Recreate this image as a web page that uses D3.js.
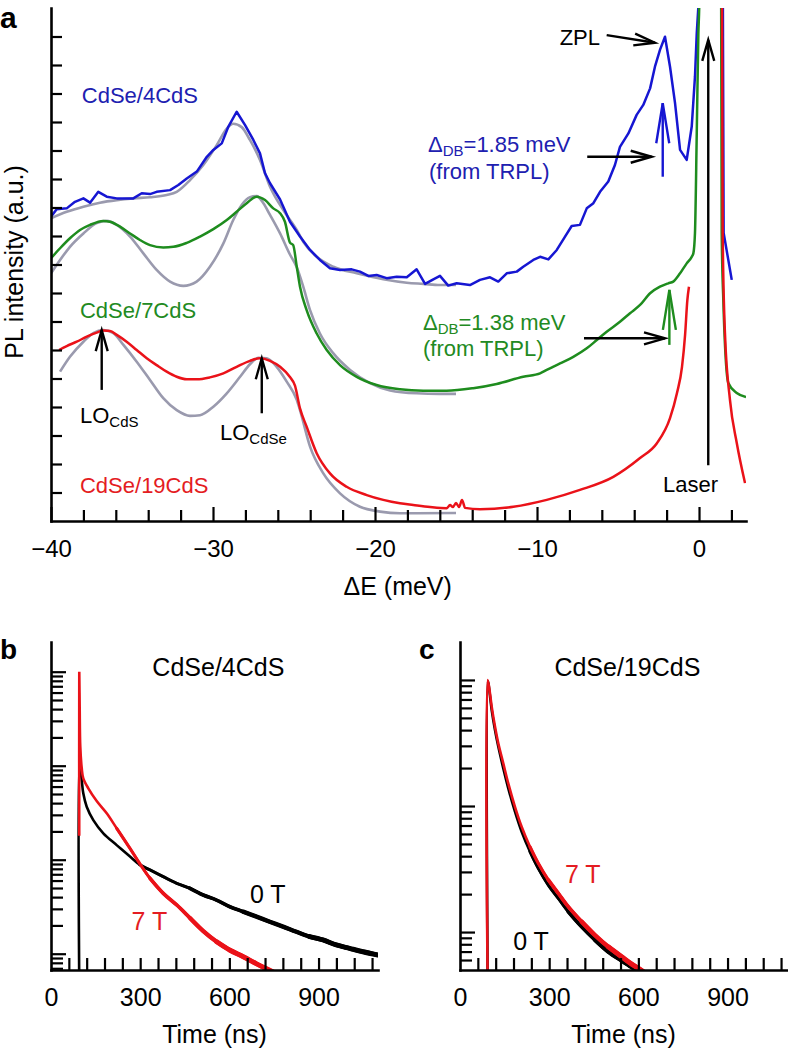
<!DOCTYPE html>
<html><head><meta charset="utf-8">
<script src="https://cdn.jsdelivr.net/npm/d3@7"></script>
<style>
body{margin:0;background:#fff;}
svg{display:block;}
</style></head><body>
<svg id="fig" width="788" height="1050"></svg>
<script>
// ---------------- DATA (panel a: PL spectra, ΔE in meV, intensity a.u.) ----------------
const blueE = [-40.0,-39.65,-39.03,-38.52,-38.0,-37.59,-37.08,-36.56,-35.94,-34.92,-34.40,-33.89,-33.48,-32.65,-32.14,-31.62,-31.0,-30.38,-29.98,-29.46,-29.05,-28.54,-28.02,-27.51,-27.10,-26.79,-26.48,-25.86,-25.25,-24.63,-24.01,-23.40,-22.78,-22.16,-21.44,-20.93,-20.41,-19.90,-19.28,-18.66,-18.04,-17.43,-16.91,-16.40,-15.99,-15.48,-14.96,-14.14,-13.52,-12.90,-12.39,-11.87,-11.25,-10.85,-10.23,-9.81,-9.30,-8.78,-8.27,-7.86,-7.35,-6.93,-6.52,-6.11,-5.60,-5.19,-4.88,-4.36,-3.85,-3.44,-3.02,-2.72,-2.41,-2.10,-1.79,-1.48,-1.17,-0.76,-0.45,-0.25,-0.14,-0.04,0.0,1.45,1.52,2.02];
const blueV = [10.68,10.94,10.97,11.20,11.32,11.17,11.55,11.38,11.32,11.32,11.50,11.47,11.55,11.61,11.79,12.02,12.26,12.78,13.02,13.25,13.84,14.36,13.89,13.37,12.90,12.20,11.85,11.28,10.50,9.98,9.51,9.16,8.87,8.81,8.83,8.75,8.60,8.63,8.52,8.57,8.55,8.83,8.32,8.48,8.60,8.26,8.34,8.28,8.46,8.55,8.40,8.69,8.75,8.92,9.16,9.27,9.18,9.51,9.98,10.35,10.39,10.97,11.15,11.55,11.91,12.49,13.13,13.60,14.25,14.60,15.18,15.94,16.53,16.99,15.94,14.66,13.02,12.67,13.84,15.59,17.11,18.05,22,22,10.11,8.46];

const greenE = [-40.0,-39.44,-38.83,-38.21,-37.59,-36.77,-36.36,-35.74,-35.12,-34.51,-33.89,-33.07,-32.45,-31.62,-30.80,-29.98,-29.15,-28.54,-27.92,-27.30,-26.79,-26.28,-25.86,-25.56,-25.25,-25.05,-24.83,-24.63,-24.22,-23.60,-22.98,-22.16,-21.13,-19.90,-18.46,-17.02,-15.58,-13.94,-12.49,-10.85,-9.81,-9.40,-8.58,-7.76,-6.93,-6.31,-5.70,-4.88,-4.26,-3.64,-3.02,-2.41,-1.90,-1.59,-1.17,-0.76,-0.45,-0.35,-0.25,-0.14,-0.04,0.02,0.05,1.35,1.40,1.50,1.81,2.33,2.90];
const greenV = [9.22,9.57,9.92,10.21,10.39,10.53,10.50,10.33,10.09,9.86,9.68,9.60,9.62,9.76,9.98,10.24,10.56,10.85,11.15,11.38,11.26,10.97,10.80,10.50,9.77,9.68,8.92,8.22,7.40,6.58,6.00,5.47,5.06,4.77,4.62,4.57,4.57,4.66,4.81,5.06,5.18,5.30,5.53,5.76,6.06,6.35,6.64,6.99,7.29,7.58,7.99,8.22,8.34,8.40,8.69,9.04,9.27,9.39,10.1,13.6,17.1,18.3,22,22,10.1,7.75,4.84,4.49,4.35];

// null marks the gap in the red spectrum around the laser line
const redE = [-39.5,-39.03,-38.41,-37.79,-37.18,-36.77,-36.36,-35.94,-35.33,-34.71,-34.09,-33.48,-32.86,-32.24,-31.62,-31.01,-30.19,-29.36,-28.54,-27.72,-27.10,-26.48,-25.86,-25.25,-24.94,-24.63,-24.22,-23.60,-22.78,-21.75,-20.51,-19.49,-18.46,-17.64,-16.60,-15.57,-15.37,-15.19,-15.0,-14.81,-14.63,-14.44,-13.52,-11.46,-9.40,-7.35,-5.29,-3.64,-2.60,-1.79,-1.36,-1.05,-0.86,-0.72,-0.62,null,1.40,1.46,1.60,1.91,2.33,2.84];
const redV = [6.0,6.14,6.29,6.47,6.61,6.68,6.67,6.53,6.29,6.0,5.71,5.47,5.24,5.06,4.97,4.97,5.04,5.18,5.41,5.62,5.71,5.62,5.41,5.05,4.75,3.95,3.31,2.38,1.67,1.20,0.91,0.74,0.62,0.56,0.49,0.45,0.56,0.49,0.63,0.49,0.74,0.46,0.41,0.50,0.74,1.09,1.55,2.21,2.73,3.61,4.49,5.41,6.53,7.75,8.22,null,22,10.1,6.60,4.25,2.74,1.33];

const fitBlueE = [-40.0,-39.03,-38.0,-36.98,-35.94,-34.92,-33.89,-32.86,-32.24,-31.42,-30.60,-29.77,-29.15,-28.75,-28.23,-27.72,-27.10,-26.48,-25.66,-24.83,-24.43,-23.60,-22.57,-21.13,-19.49,-18.04,-17.02,-15.99,-15.0];
const fitBlueV = [10.62,10.85,11.03,11.17,11.26,11.32,11.36,11.44,11.55,11.96,12.49,13.19,13.77,13.94,13.82,13.37,12.67,11.73,10.91,10.21,9.80,9.27,8.92,8.69,8.48,8.36,8.32,8.28,8.28];

const fitGreenE = [-40.0,-39.44,-38.83,-38.0,-37.18,-36.56,-35.94,-35.12,-34.30,-33.48,-32.65,-31.83,-31.01,-30.19,-29.36,-28.75,-28.23,-27.72,-27.30,-26.89,-26.48,-25.86,-25.25,-24.83,-24.43,-24.01,-23.40,-22.57,-21.54,-20.31,-19.07,-17.43,-16.01,-15.0];
const fitGreenV = [8.69,9.16,9.62,10.09,10.45,10.53,10.39,9.98,9.39,8.81,8.40,8.25,8.40,8.92,9.74,10.56,11.09,11.36,11.40,11.15,10.74,10.09,9.35,8.9,8.22,7.40,6.58,5.88,5.30,4.84,4.58,4.48,4.46,4.46];

const fitRedE = [-39.44,-38.83,-38.0,-37.39,-36.77,-36.15,-35.53,-34.71,-33.89,-33.07,-32.24,-31.42,-30.80,-29.98,-29.15,-28.33,-27.72,-27.20,-26.69,-26.07,-25.45,-24.83,-24.63,-24.01,-23.19,-22.16,-20.93,-19.69,-18.46,-15.0];
const fitRedV = [5.24,5.76,6.29,6.59,6.70,6.59,6.18,5.59,4.95,4.31,3.89,3.69,3.71,4.01,4.48,5.06,5.50,5.73,5.71,5.41,4.89,4.25,3.89,2.61,1.67,0.97,0.50,0.33,0.27,0.28];

const aXTickLabels = [-40,-30,-20,-10,0];

// ---------------- DATA (panels b, c: TRPL decays, time in ns, normalised intensity) ----------------
const b0T_t = [95,95.2,97.5,103.3,108.6,120.1,142.3,176.0,220.9,265.7,299.3,333.0,377.7,422.5,467.3,512.0,556.8,601.6,646.3,691.1,735.8,780.6,825.4,870.1,914.9,959.7,1004.4,1049.2,1099.7];
const b0T_v = [0.0005,0.105,0.0975,0.0705,0.0508,0.0366,0.0264,0.0191,0.0143,0.0108,0.00879,0.00778,0.00659,0.00561,0.00497,0.00421,0.00372,0.00316,0.00280,0.00248,0.00219,0.00194,0.00171,0.00152,0.00140,0.00124,0.00114,0.00105,0.00097];
const b7T_t = [95,95.1,96.5,98.5,103.3,108.6,125.5,153.7,187.4,221.0,265.7,299.4,333.0,377.7,422.8,467.5,512.3,557.3,602.1,646.8,691.7,725.3,770.3];
const b7T_v = [0.018,1.0,0.42,0.16,0.0946,0.0734,0.0575,0.0421,0.0312,0.0216,0.0132,0.0090,0.00634,0.00439,0.00330,0.00240,0.00174,0.00134,0.00109,0.00093,0.00078,0.00069,0.00059];

const c0T_t = [93,93.3,95.2,106.6,117.7,128.8,145.6,162.4,184.9,207.4,235.5,263.4,297.1,330.7,364.3,409.3,454.0,498.8,543.9,566.2,588.6,600];
const c0T_v = [0.004,0.98,0.95,0.578,0.401,0.296,0.199,0.138,0.0902,0.0625,0.0434,0.0320,0.0236,0.0185,0.0145,0.0110,0.00865,0.00698,0.00592,0.00547,0.00506,0.0048];
const c7T_t = [93,93.2,100.9,106.6,117.7,128.8,145.6,162.4,184.9,207.4,235.5,263.4,297.1,330.7,364.3,409.3,454.0,498.8,543.9,577.5,605.4,625];
const c7T_v = [0.004,1.0,0.783,0.614,0.427,0.314,0.218,0.151,0.0986,0.0685,0.0475,0.0351,0.0259,0.0203,0.0159,0.0121,0.00946,0.00764,0.00637,0.00557,0.00506,0.0047];

const timeTickLabels = [0,300,600,900];

// ---------------- DRAWING ----------------
const FONT = '"Liberation Sans", Arial, Helvetica, sans-serif';
const BLUE = "#1616d2", GREEN = "#1e8c1e", RED = "#ea1219", GRAY = "#9a9aae";
const BLUE_T = "#2020b0", GREEN_T = "#228a22", RED_T = "#e41c22";
const svg = d3.select("#fig").attr("font-family", FONT);
const defs = svg.append("defs");
const zip = (a, b) => a.map((x, i) => [x, b[i]]);
const minus = d => d < 0 ? "\u2212" + Math.abs(d) : String(d);

function clip(id, x, y, w, h) {
  defs.append("clipPath").attr("id", id).append("rect").attr("x", x).attr("y", y).attr("width", w).attr("height", h);
}
function arrow(g, x1, y1, x2, y2, color, hl, hw, sw) {
  const a = Math.atan2(y2 - y1, x2 - x1), ux = Math.cos(a), uy = Math.sin(a);
  const bx = x2 - ux * hl, by = y2 - uy * hl, px = -uy, py = ux;
  g.append("line").attr("x1", x1).attr("y1", y1).attr("x2", x2).attr("y2", y2)
    .attr("stroke", color).attr("stroke-width", sw);
  g.append("path").attr("d", `M${bx + px * hw},${by + py * hw}L${x2},${y2}L${bx - px * hw},${by - py * hw}`)
    .attr("fill", "none").attr("stroke", color).attr("stroke-width", sw).attr("stroke-linejoin", "miter");
}
function styleAxis(g, fs) {
  g.attr("font-family", FONT).attr("font-size", fs);
  g.selectAll(".domain").attr("stroke", "#000").attr("stroke-width", 2.6).attr("stroke-linecap", "square");
  g.selectAll(".tick line").attr("stroke", "#000").attr("stroke-width", 2.2);
  g.selectAll(".tick text").attr("fill", "#000");
}

// ===== Panel a =====
const xA = d3.scaleLinear().domain([-40, 2.9]).range([51, 746]);
const yA = d3.scaleLinear().domain([0, 18]).range([521, 8]);
clip("clipA", 51, 8, 695, 513);
const gA = svg.append("g");
const plotA = gA.append("g").attr("clip-path", "url(#clipA)");
const lineA = d3.line().defined(d => d[0] != null && d[1] != null).x(d => xA(d[0])).y(d => yA(d[1]));

[[fitBlueE, fitBlueV], [fitGreenE, fitGreenV], [fitRedE, fitRedV]].forEach(([e, v]) => {
  plotA.append("path").attr("d", lineA.curve(d3.curveMonotoneX)(zip(e, v)))
    .attr("fill", "none").attr("stroke", GRAY).attr("stroke-width", 2.6);
});
plotA.append("path").attr("d", lineA.curve(d3.curveLinear)(zip(blueE, blueV)))
  .attr("fill", "none").attr("stroke", BLUE).attr("stroke-width", 2.5).attr("stroke-linejoin", "round");
plotA.append("path").attr("d", lineA.curve(d3.curveMonotoneX)(zip(greenE, greenV)))
  .attr("fill", "none").attr("stroke", GREEN).attr("stroke-width", 2.5);
plotA.append("path").attr("d", lineA.curve(d3.curveMonotoneX)(zip(redE, redV)))
  .attr("fill", "none").attr("stroke", RED).attr("stroke-width", 2.5);

// axes a
const axAx = gA.append("g").attr("transform", "translate(0,521)")
  .call(d3.axisBottom(xA).tickValues(d3.range(-40, 3, 2)).tickSizeInner(-11).tickSizeOuter(0).tickPadding(19)
    .tickFormat(d => aXTickLabels.includes(d) ? minus(d) : ""));
styleAxis(axAx, 24);
axAx.selectAll(".tick line").attr("y2", d => d % 10 === 0 ? -14 : -11);
const axAy = gA.append("g").attr("transform", "translate(51,0)")
  .call(d3.axisLeft(yA).tickValues(d3.range(1, 18)).tickSizeInner(-11).tickSizeOuter(0).tickFormat(""));
styleAxis(axAy, 24);

gA.append("text").attr("x", xA(-18.6)).attr("y", 595).attr("text-anchor", "middle").attr("font-size", 25).text("\u0394E (meV)");
gA.append("text").attr("transform", `translate(23,${yA(9.09)}) rotate(-90)`).attr("text-anchor", "middle")
  .attr("font-size", 25).text("PL intensity (a.u.)");
gA.append("text").attr("x", 0).attr("y", 28).attr("font-size", 30).attr("font-weight", "bold").text("a");

// annotations a
const annoA = [
  {e1: -5.70, v1: 17.05, e2: -2.72, v2: 16.78, c: "#000", big: false},
  {e1: -6.90, v1: 12.78, e2: -2.92, v2: 12.78, c: "#000", big: false},
  {e1: -2.24, v1: 12.08, e2: -2.24, v2: 14.66, c: BLUE, big: true},
  {e1: -7.10, v1: 6.41, e2: -2.10, v2: 6.41, c: "#000", big: false},
  {e1: -1.83, v1: 6.18, e2: -1.83, v2: 8.11, c: GREEN, big: true},
  {e1: 0.57, v1: 1.96, e2: 0.57, v2: 16.88, c: "#000", big: false},
  {e1: -36.87, v1: 4.60, e2: -36.87, v2: 6.70, c: "#000", big: false},
  {e1: -26.99, v1: 3.78, e2: -26.99, v2: 5.71, c: "#000", big: false}
];
annoA.forEach(a => arrow(gA, xA(a.e1), yA(a.v1), xA(a.e2), yA(a.v2), a.c, a.big ? 40 : 21, a.big ? 6.5 : 6, 2.4));

function labelA(e, v, color, parts, anchor) {
  const t = gA.append("text").attr("x", xA(e)).attr("y", yA(v)).attr("fill", color).attr("font-size", 22)
    .attr("text-anchor", anchor || "start");
  parts.forEach(p => {
    const s = t.append("tspan").text(p.s);
    if (p.sub) s.attr("font-size", 15).attr("dy", 4);
    if (p.back) s.attr("dy", -4);
  });
}
labelA(-38.10, 14.66, BLUE_T, [{s: "CdSe/4CdS"}]);
labelA(-38.21, 7.11, GREEN_T, [{s: "CdSe/7CdS"}]);
labelA(-38.21, 0.98, RED_T, [{s: "CdSe/19CdS"}]);
labelA(-16.73, 12.96, BLUE_T, [{s: "\u0394"}, {s: "DB", sub: true}, {s: "=1.85 meV", back: true}]);
labelA(-16.67, 12.0, BLUE_T, [{s: "(from TRPL)"}]);
labelA(-17.04, 6.69, GREEN_T, [{s: "\u0394"}, {s: "DB", sub: true}, {s: "=1.38 meV", back: true}]);
labelA(-17.04, 5.78, GREEN_T, [{s: "(from TRPL)"}]);
labelA(-6.11, 16.70, "#000", [{s: "ZPL"}], "end");
labelA(-2.22, 1.02, "#000", [{s: "Laser"}]);
labelA(-38.21, 3.43, "#000", [{s: "LO"}, {s: "CdS", sub: true}]);
labelA(-29.57, 2.84, "#000", [{s: "LO"}, {s: "CdSe", sub: true}]);

// ===== Panels b, c =====
// noisy tails drawn progressively thicker: [start time, stroke width]
function decayPanel(x0, letter, letterX, title, s0t, s0v, s7t, s7v, yDom, lbl0, lbl7, titleT, titleV, thick0, thick7) {
  const x = d3.scaleLinear().domain([0, 1100]).range([x0, x0 + 327]);
  const y = d3.scaleLog().domain(yDom).range([970, 642]);
  const id = "clip" + letter;
  clip(id, x0, 642, 327, 328);
  const g = svg.append("g");
  const plot = g.append("g").attr("clip-path", `url(#${id})`);
  const line = d3.line().x(d => x(d[0])).y(d => y(d[1])).curve(d3.curveCatmullRom.alpha(0.5));
  const d0 = zip(s0t, s0v), d7 = zip(s7t, s7v);
  function draw(data, color, thick) {
    plot.append("path").attr("d", line(data)).attr("fill", "none").attr("stroke", color).attr("stroke-width", 2.6);
    thick.forEach(([t0, w]) => {
      const i0 = Math.max(0, data.findIndex(d => d[0] >= t0) - 1);
      plot.append("path").attr("d", line(data.slice(i0))).attr("fill", "none").attr("stroke", color)
        .attr("stroke-width", w).attr("stroke-linecap", "round");
    });
  }
  draw(d0, "#000", thick0);
  draw(d7, RED, thick7);

  const minorT = d3.range(60, 1081, 60);
  const ax = g.append("g").attr("transform", "translate(0,970)")
    .call(d3.axisBottom(x).tickValues(minorT).tickSizeInner(-12).tickSizeOuter(0).tickFormat(""));
  styleAxis(ax, 25);
  const axL = g.append("g").attr("transform", "translate(0,970)")
    .call(d3.axisBottom(x).tickValues(timeTickLabels).tickSizeInner(0).tickSizeOuter(0).tickPadding(18).tickFormat(d => String(d)));
  styleAxis(axL, 25);
  axL.select(".domain").remove();

  const lt = [];
  for (let k = -5; k <= 0; k++) for (let m = 1; m <= 9; m++) {
    const v = m * Math.pow(10, k);
    if (v >= yDom[0] * 1.01 && v <= 1.0001) lt.push(v);
  }
  const ay = g.append("g").attr("transform", `translate(${x0},0)`)
    .call(d3.axisRight(y).tickValues(lt).tickSize(12).tickSizeOuter(0).tickFormat(""));
  styleAxis(ay, 25);
  ay.selectAll(".tick line").attr("x2", d => Math.abs(Math.log10(d) - Math.round(Math.log10(d))) < 1e-6 ? 15 : 12);

  g.append("text").attr("x", x(550)).attr("y", 1043).attr("text-anchor", "middle").attr("font-size", 25).text("Time (ns)");
  g.append("text").attr("x", x(titleT)).attr("y", y(titleV)).attr("text-anchor", "middle").attr("font-size", 25).text(title);
  g.append("text").attr("x", x(lbl0[0])).attr("y", y(lbl0[1])).attr("font-size", 25).attr("fill", "#000").text("0 T");
  g.append("text").attr("x", x(lbl7[0])).attr("y", y(lbl7[1])).attr("font-size", 25).attr("fill", RED_T).text("7 T");
  g.append("text").attr("x", letterX).attr("y", 659).attr("font-size", 28).attr("font-weight", "bold").text(letter);
}
decayPanel(51, "b", 0, "CdSe/4CdS", b0T_t, b0T_v, b7T_t, b7T_v, [6.71e-4, 2.07], [669, 0.00346], [271, 0.00179], 563, 0.90,
  [[300, 3.1], [480, 3.7], [680, 4.4], [880, 5.0]], [[250, 3.1], [360, 3.7], [480, 4.4], [600, 5.0]]);
decayPanel(460, "c", 419, "CdSe/19CdS", c0T_t, c0T_v, c7T_t, c7T_v, [0.005, 2.0], [179, 0.0072], [353, 0.0245], 563, 1.076,
  [[260, 3.1], [380, 3.7], [480, 4.2]], [[240, 3.1], [330, 3.7], [420, 4.4], [520, 5.0]]);
</script>
</body></html>
